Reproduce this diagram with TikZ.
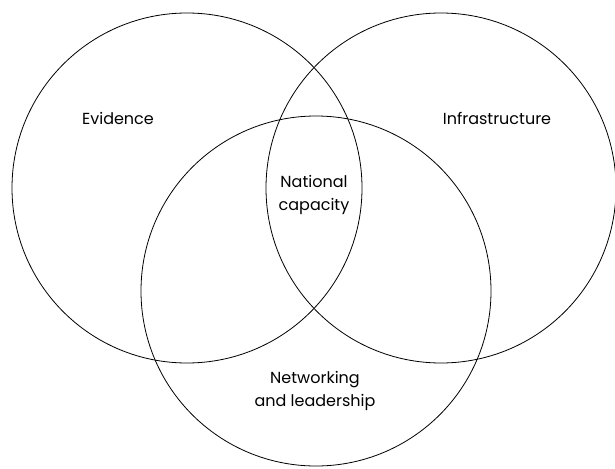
\documentclass[tikz,border=0pt]{standalone}
\usepackage{fontspec}
\setmainfont{Poppins}
\usetikzlibrary{positioning}

\begin{document}
\begin{tikzpicture}[
  x=1pt,y=-1pt,
  ring/.style ={circle,draw,line width=0.8pt,minimum size=350pt,inner sep=0pt},
  lbl/.style  ={align=center,font=\fontsize{16}{23}\selectfont}
]
\useasboundingbox (0,0) rectangle (615,468);
\node[ring] at (187,188)(evid){};
\node[ring] at (441,188)(infra){};
\node[ring] at (316,291)(netw){};

\node[lbl] at (118,118)(tevid){Evidence};
\node[lbl] at (497,118)(tinfra){Infrastructure};
\node[lbl] at (314,195)(tnat){National\\capacity};
\node[lbl] at (315,391)(tnetw){Networking\\and leadership};
\end{tikzpicture}
\end{document}
